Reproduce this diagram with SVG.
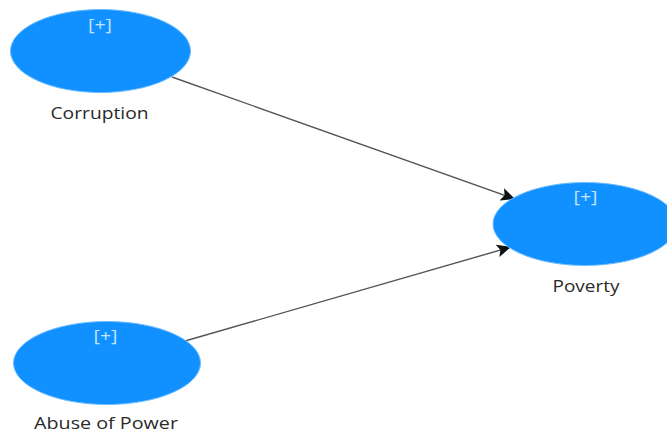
<svg xmlns="http://www.w3.org/2000/svg" width="667" height="433" viewBox="0 0 667 433">
<style>
.n{fill:#1191ff;stroke:#6bbcff;stroke-width:1}
.c{stroke:#555;stroke-width:1.4;fill:none;marker-end:url(#a)}
.l{font-family:"Open Sans","Noto Sans",sans-serif;font-size:15.5px;fill:#2a2a2a;text-anchor:middle}
.p{font-family:"Open Sans","Noto Sans",sans-serif;font-size:16px;fill:#c4e2ff;text-anchor:middle}
</style>
<defs>
<marker id="a" markerUnits="userSpaceOnUse" markerWidth="15" markerHeight="14" refX="14" refY="7" orient="auto">
<path d="M0 0.500L14 7L0 13.500L3 7Z" fill="#111"/>
</marker>
</defs>
<rect width="667" height="433" fill="#fff"/>
<g id="connectors">
<path class="c" d="M172 77L515 199"/>
<path class="c" d="M185 341L511 247"/>
</g>
<g id="corruption">
<ellipse class="n" cx="100.500" cy="51" rx="90" ry="41.500"/>
<text class="p" x="100" y="30.500" textLength="24" lengthAdjust="spacingAndGlyphs">[+]</text>
<text class="l" x="99.500" y="118.500" textLength="98" lengthAdjust="spacingAndGlyphs">Corruption</text>
</g>
<g id="poverty">
<ellipse class="n" cx="585" cy="224" rx="92" ry="41.500"/>
<text class="p" x="585.500" y="202.500" textLength="24" lengthAdjust="spacingAndGlyphs">[+]</text>
<text class="l" x="586" y="291.500" textLength="67" lengthAdjust="spacingAndGlyphs">Poverty</text>
</g>
<g id="abuse-of-power">
<ellipse class="n" cx="107" cy="363" rx="93.500" ry="41.500"/>
<text class="p" x="105.500" y="341.500" textLength="24" lengthAdjust="spacingAndGlyphs">[+]</text>
<text class="l" x="106" y="428.500" textLength="144" lengthAdjust="spacingAndGlyphs">Abuse of Power</text>
</g>
</svg>
